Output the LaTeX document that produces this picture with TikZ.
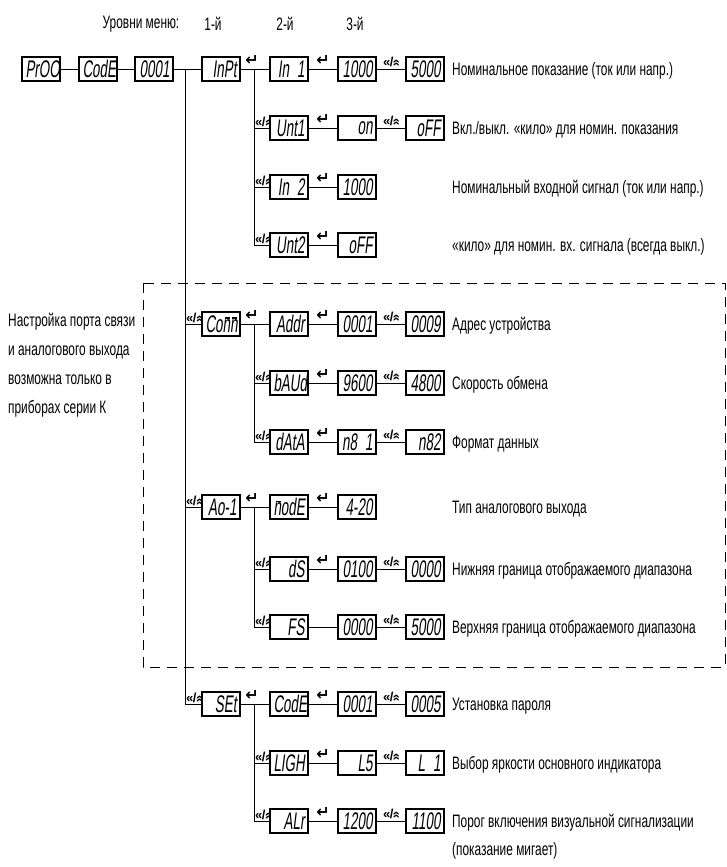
\documentclass[tikz,border=0pt]{standalone}
\usepackage{fontspec}
\setmainfont[FakeStretch=0.66]{Liberation Sans}
\newfontfamily\segfont[FakeStretch=0.56,FakeSlant=0.12]{Liberation Sans}
\newfontfamily\plainsans{Liberation Sans}
\newfontfamily\arrowfont{DejaVu Sans}
\usetikzlibrary{calc}
\tikzset{
  disp/.style={draw, line width=1.2pt, minimum width=38pt, minimum height=24pt, inner sep=0pt,
    text width=31pt, align=right, font=\segfont\fontsize{24}{24}\selectfont},
  lbl/.style={anchor=base west, inner sep=0pt, font=\fontsize{18}{27}\selectfont},
  hdr/.style={inner sep=0pt, font=\fontsize{18}{20}\selectfont},
  ln/.style={line width=0.9pt},
  ent/.style={inner sep=0pt, font=\arrowfont\bfseries\fontsize{16}{16}\selectfont},
  sel/.style={inner sep=0pt, font=\plainsans\bfseries\fontsize{13}{13}\selectfont},
  selv/.style={sel, anchor=south west},
  zone/.style={line width=0.9pt, dash pattern=on 10pt off 7pt},
}
\newcommand{\selsym}{«\kern-0.5pt/\kern-0.5pt\rotatebox[origin=c]{-90}{«}}
\newcommand{\segm}{\rlap{\kern2.2pt\raisebox{13.6pt}{\rule{5pt}{1.3pt}}}n}
\begin{document}
\begin{tikzpicture}[x=1pt,y=-1pt]
\useasboundingbox (0,0) rectangle (727,867);

% header
\node[hdr] (hlev) at (141,24) {Уровни меню:};
\node[hdr] (h1) at (213,24) {1-й};
\node[hdr] (h2) at (285,24) {2-й};
\node[hdr] (h3) at (355,24) {3-й};

% dashed zone and note
\draw[zone] (143,283) rectangle (725,667);
\node[anchor=north west, align=left, inner sep=0pt, font=\fontsize{18}{29}\selectfont] (note) at (8,313)
  {Настройка порта связи\\и аналогового выхода\\возможна только в\\приборах серии К};

% row 1
\node[disp] (prog) at (41,69) {PrOO};
\node[disp] (code0) at (98,69) {CodE};
\node[disp] (pass0) at (154,69) {0001};
\node[disp] (inpt) at (221,69) {InPt};
\node[disp] (in1) at (289,69) {In 1};
\node[disp] (in1v) at (357,69) {1000};
\node[disp] (in1w) at (425,69) {5000};
% InPt group
\node[disp] (unt1) at (289,128) {Unt1};
\node[disp] (unt1v) at (357,128) {on};
\node[disp] (unt1w) at (425,128) {oFF};
\node[disp] (in2) at (289,187) {In 2};
\node[disp] (in2v) at (357,187) {1000};
\node[disp] (unt2) at (289,245) {Unt2};
\node[disp] (unt2v) at (357,245) {oFF};
% Conn group
\node[disp] (conn) at (221,324) {Co\segm\segm};
\node[disp] (addr) at (289,324) {Addr};
\node[disp] (addrv) at (357,324) {0001};
\node[disp] (addrw) at (425,324) {0009};
\node[disp] (baud) at (289,383) {bAUd};
\node[disp] (baudv) at (357,383) {9600};
\node[disp] (baudw) at (425,383) {4800};
\node[disp] (data) at (289,442) {dAtA};
\node[disp] (datav) at (357,442) {n8 1};
\node[disp] (dataw) at (425,442) {n82};
% Ao-1 group
\node[disp] (ao) at (221,507) {Ao-1};
\node[disp] (mode) at (289,507) {\segm odE};
\node[disp] (modev) at (357,507) {4-20};
\node[disp] (ds) at (289,569) {dS};
\node[disp] (dsv) at (357,569) {0100};
\node[disp] (dsw) at (425,569) {0000};
\node[disp] (fs) at (289,627) {FS};
\node[disp] (fsv) at (357,627) {0000};
\node[disp] (fsw) at (425,627) {5000};
% SEt group
\node[disp] (set) at (221,704) {SEt};
\node[disp] (scode) at (289,704) {CodE};
\node[disp] (scodev) at (357,704) {0001};
\node[disp] (scodew) at (425,704) {0005};
\node[disp] (ligh) at (289,763) {LIGH};
\node[disp] (lighv) at (357,763) {L5};
\node[disp] (lighw) at (425,763) {L 1};
\node[disp] (alr) at (289,821) {ALr};
\node[disp] (alrv) at (357,821) {1200};
\node[disp] (alrw) at (425,821) {1100};

% trunk and group verticals
\coordinate (tr) at (185,69);
\coordinate (va) at (254,69);
\coordinate (vb) at (254,324);
\coordinate (vc) at (254,507);
\coordinate (vd) at (254,704);

\draw[ln] (prog) -- (code0);
\draw[ln] (code0) -- (pass0);
\draw[ln] (pass0) -- (inpt);
\draw[ln] (tr) |- (set);
\draw[ln] (tr |- conn) -- (conn);
\draw[ln] (tr |- ao) -- (ao);

\draw[ln] (inpt) -- (in1);
\draw[ln] (va) |- (unt2);
\draw[ln] (va |- unt1) -- (unt1);
\draw[ln] (va |- in2) -- (in2);
\draw[ln] (conn) -- (addr);
\draw[ln] (vb) |- (data);
\draw[ln] (vb |- baud) -- (baud);
\draw[ln] (ao) -- (mode);
\draw[ln] (vc) |- (fs);
\draw[ln] (vc |- ds) -- (ds);
\draw[ln] (set) -- (scode);
\draw[ln] (vd) |- (alr);
\draw[ln] (vd |- ligh) -- (ligh);

\foreach \a/\b in {in1/in1v,in1v/in1w,unt1/unt1v,unt1v/unt1w,in2/in2v,unt2/unt2v,
  addr/addrv,addrv/addrw,baud/baudv,baudv/baudw,data/datav,datav/dataw,
  mode/modev,ds/dsv,dsv/dsw,fs/fsv,fsv/fsw,scode/scodev,scodev/scodew,
  ligh/lighv,lighv/lighw,alr/alrv,alrv/alrw}
  \draw[ln] (\a) -- (\b);

% enter symbols
\foreach \r/\xx/\yy in {1/252/60,2/323/60,3/323/119,4/323/178,5/323/236,
  6/252/315,7/323/315,8/323/374,9/323/433,10/252/498,11/323/498,12/323/560,
  13/252/695,14/323/695,15/323/754,16/323/812}
  \node[ent] (ent\r) at (\xx,\yy) {↵};

% selection symbols at verticals
\foreach \r/\xx/\yy in {1/255/127,2/255/186,3/255/244,4/255/382,5/255/441,
  6/255/568,7/255/626,8/255/762,9/255/820,10/186/323,11/186/506,12/186/703}
  \node[selv] (sv\r) at (\xx,\yy) {\selsym};

% selection symbols between 3rd and 4th columns
\foreach \r/\yy in {1/62,2/121,3/317,4/376,5/435,6/562,7/620,8/697,9/756,10/814}
  \node[sel] (sm\r) at (391,\yy) {\selsym};

% descriptions
\node[lbl] (d1) at (452,75.5) {Номинальное показание (ток или напр.)};
\node[lbl] (d2) at (452,134.5) {Вкл./выкл. «кило» для номин. показания};
\node[lbl] (d3) at (452,193.5) {Номинальный входной сигнал (ток или напр.)};
\node[lbl] (d4) at (452,251.5) {«кило» для номин. вх. сигнала (всегда выкл.)};
\node[lbl] (d5) at (452,330.5) {Адрес устройства};
\node[lbl] (d6) at (452,389.5) {Скорость обмена};
\node[lbl] (d7) at (452,448.5) {Формат данных};
\node[lbl] (d8) at (452,513.5) {Тип аналогового выхода};
\node[lbl] (d9) at (452,575.5) {Нижняя граница отображаемого диапазона};
\node[lbl] (d10) at (452,633.5) {Верхняя граница отображаемого диапазона};
\node[lbl] (d11) at (452,710.5) {Установка пароля};
\node[lbl] (d12) at (452,769.5) {Выбор яркости основного индикатора};
\node[lbl] (d13) at (452,827.5) {Порог включения визуальной сигнализации};
\node[lbl] (d13b) at (452,855.5) {(показание мигает)};
\end{tikzpicture}
\end{document}
